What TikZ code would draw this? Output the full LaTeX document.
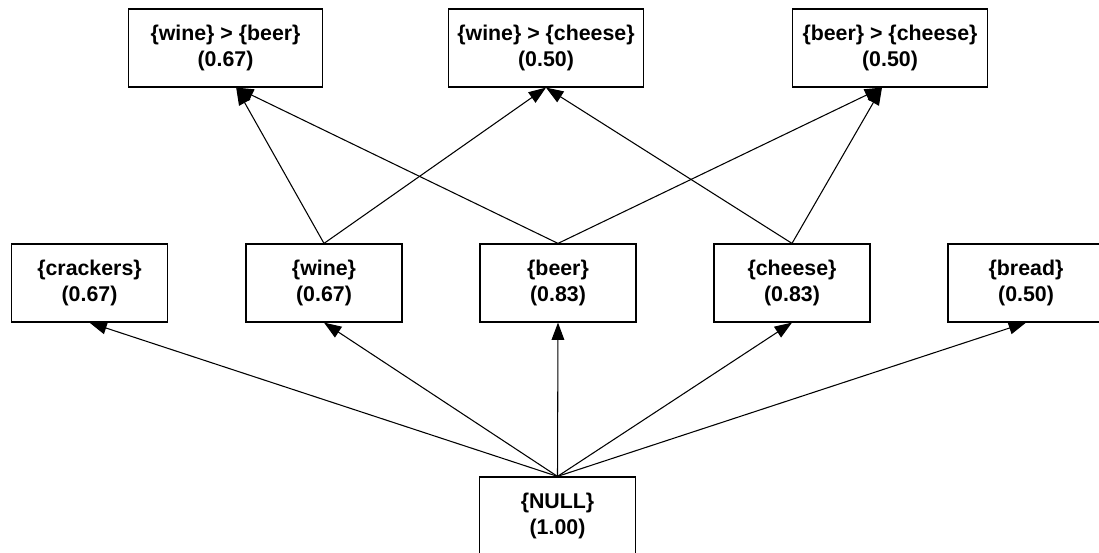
\documentclass[tikz,border=0pt]{standalone}
\usepackage{fontspec}
\setmainfont{Liberation Sans}
\usetikzlibrary{arrows.meta}

\begin{document}
\begin{tikzpicture}[x=0.75pt,y=-0.75pt,
  itembox/.style={draw=black, line width=0.9pt, fill=white, inner sep=0pt,
    minimum width=117pt, minimum height=58.5pt, align=center,
    font=\fontsize{16}{20}\selectfont\bfseries},
  rulebox/.style={itembox, minimum width=146pt},
  link/.style={line width=0.8pt, -{Triangle[length=13pt,width=9.5pt]}}]
\useasboundingbox (0,0) rectangle (1099,553);

% Rules
\node[rulebox] (winebeer)   at (225.5,48) {\{wine\} > \{beer\}\\(0.67)};
\node[rulebox] (winecheese) at (546,48)   {\{wine\} > \{cheese\}\\(0.50)};
\node[rulebox] (beercheese) at (890,48)   {\{beer\} > \{cheese\}\\(0.50)};

% Single items
\node[itembox] (crackers) at (89.5,283) {\{crackers\}\\(0.67)};
\node[itembox] (wine)     at (324,283)  {\{wine\}\\(0.67)};
\node[itembox] (beer)     at (558,283)  {\{beer\}\\(0.83)};
\node[itembox] (cheese)   at (792,283)  {\{cheese\}\\(0.83)};
\node[itembox] (bread)    at (1026,283) {\{bread\}\\(0.50)};

% Root
\node[itembox] (null) at (557.5,516) {\{NULL\}\\(1.00)};

% Root to items
\foreach \item in {crackers,wine,beer,cheese,bread}
  \draw[link] (null.north) -- (\item.south);

% Items to rules
\draw[link] (wine.north) -- ([xshift=8pt]winebeer.south);
\draw[link] (beer.north) -- ([xshift=8pt]winebeer.south);
\draw[link] (wine.north) -- (winecheese.south);
\draw[link] (cheese.north) -- (winecheese.south);
\draw[link] (beer.north) -- ([xshift=-6pt]beercheese.south);
\draw[link] (cheese.north) -- ([xshift=-6pt]beercheese.south);
\end{tikzpicture}
\end{document}
